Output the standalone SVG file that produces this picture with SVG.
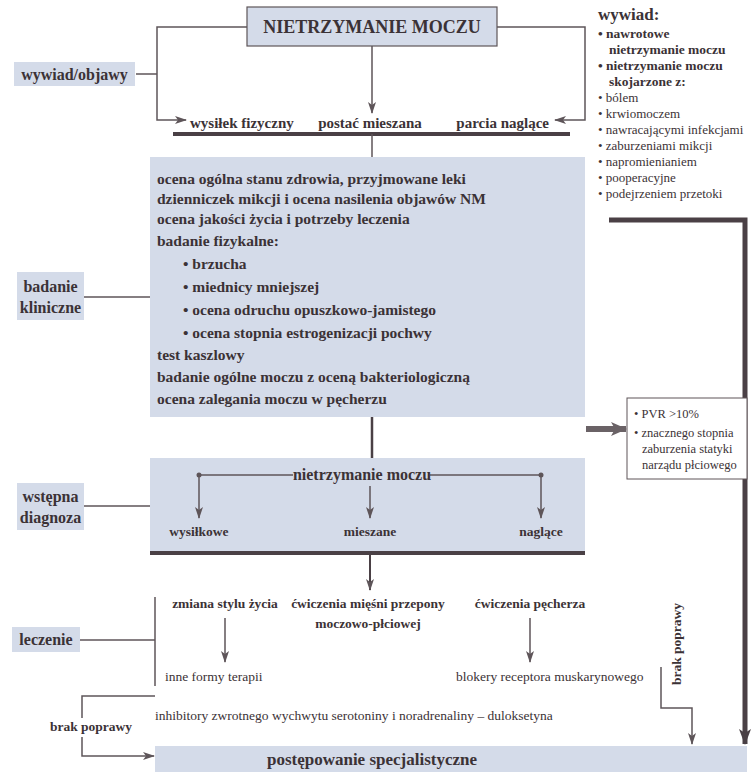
<svg xmlns="http://www.w3.org/2000/svg" width="751" height="772" viewBox="0 0 751 772">
<style>
.t{font-family:"Liberation Serif","Times New Roman",serif;fill:#3b3236}
.b{font-weight:bold}
.box{fill:#d4dbe9}
.ln{stroke:#5e5559;stroke-width:1.5;fill:none}
.thick{stroke:#4a4045;stroke-width:4;fill:none}
</style>
<defs>
<marker id="ar" markerWidth="12" markerHeight="8" refX="11" refY="4" orient="auto" markerUnits="userSpaceOnUse"><path d="M0,0 L12,4 L0,8 L3,4 z" fill="#5e5559"/></marker>
<marker id="arB" markerWidth="16" markerHeight="12" refX="15" refY="6" orient="auto" markerUnits="userSpaceOnUse"><path d="M0,0 L16,6 L0,12 L4,6 z" fill="#4a4045"/></marker>
<marker id="arG" markerWidth="16" markerHeight="14" refX="15" refY="7" orient="auto" markerUnits="userSpaceOnUse"><path d="M0,0 L16,7 L0,14 L4,7 z" fill="#6a6266"/></marker>
</defs>
<rect width="751" height="772" fill="#ffffff"/>

<g id="connectors">
<path class="ln" d="M247,27 H157 V120 H186" marker-end="url(#ar)"/>
<path class="ln" d="M136,74 H157"/>
<path class="ln" d="M497,27 H585 V120 H555" marker-end="url(#ar)"/>
<path class="ln" d="M372,46 V113" marker-end="url(#ar)"/>
<path class="thick" d="M173,134 H570"/>
<path class="ln" d="M372,134 V157"/>
<path class="ln" d="M84,297 H150"/>
<path d="M586,429 H626" stroke="#6a6266" stroke-width="6" fill="none" marker-end="url(#arG)"/>
<path d="M609,220 H745 V744" stroke="#4a4045" stroke-width="5" fill="none" marker-end="url(#arB)"/>
<path class="thick" d="M372,417 V458" style="stroke-width:2.5"/>
<path class="ln" d="M84,506 H150"/>
<path class="thick" d="M370,553 V590" style="stroke-width:2" marker-end="url(#ar)"/>
<path class="ln" d="M155,597 V686"/>
<path class="ln" d="M80,640 H155"/>
<path class="ln" d="M225,618 V662" marker-end="url(#ar)"/>
<path class="ln" d="M530,618 V662" marker-end="url(#ar)"/>
<path class="ln" d="M661,667 V708 H692 V744" marker-end="url(#ar)"/>
<path class="ln" d="M155,696 H82 V718"/>
<path class="ln" d="M82,737 V756 H154" marker-end="url(#ar)"/>
</g>

<g id="n-main">
<rect x="247" y="7" width="250" height="39" class="box" stroke="#5e5559" stroke-width="1.2"/>
<text class="t b" x="372" y="33" font-size="18" text-anchor="middle">NIETRZYMANIE MOCZU</text>
</g>

<g id="l-wywiad">
<rect x="14" y="62" width="121" height="24" class="box"/>
<text class="t b" x="74.5" y="80" font-size="16" text-anchor="middle">wywiad/objawy</text>
</g>

<g id="n-types">
<text class="t b" x="190" y="128" font-size="15">wysiłek fizyczny</text>
<text class="t b" x="370" y="128" font-size="15" text-anchor="middle">postać mieszana</text>
<text class="t b" x="549" y="128" font-size="15" text-anchor="end">parcia naglące</text>
</g>

<g id="n-wywiad-list" class="t">
<text class="b" x="598" y="20" font-size="17">wywiad:</text>
<text class="b" x="598" y="38" font-size="13.5">• nawrotowe</text>
<text class="b" x="609" y="54" font-size="13.5">nietrzymanie moczu</text>
<text class="b" x="598" y="70" font-size="13.5">• nietrzymanie moczu</text>
<text class="b" x="609" y="86" font-size="13.5">skojarzone z:</text>
<text x="598" y="102" font-size="13">• bólem</text>
<text x="598" y="118" font-size="13">• krwiomoczem</text>
<text x="598" y="134" font-size="13">• nawracającymi infekcjami</text>
<text x="598" y="150" font-size="13">• zaburzeniami mikcji</text>
<text x="598" y="166" font-size="13">• napromienianiem</text>
<text x="598" y="182" font-size="13">• pooperacyjne</text>
<text x="598" y="198" font-size="13">• podejrzeniem przetoki</text>
</g>

<g id="n-clinical" class="t b" font-size="15.5">
<rect x="150" y="157" width="435" height="260" class="box"/>
<text x="157" y="184">ocena ogólna stanu zdrowia, przyjmowane leki</text>
<text x="157" y="204">dzienniczek mikcji i ocena nasilenia objawów NM</text>
<text x="157" y="224">ocena jakości życia i potrzeby leczenia</text>
<text x="157" y="246">badanie fizykalne:</text>
<text x="183" y="269">• brzucha</text>
<text x="183" y="292">• miednicy mniejszej</text>
<text x="183" y="315">• ocena odruchu opuszkowo-jamistego</text>
<text x="183" y="338">• ocena stopnia estrogenizacji pochwy</text>
<text x="157" y="360">test kaszlowy</text>
<text x="157" y="382">badanie ogólne moczu z oceną bakteriologiczną</text>
<text x="157" y="404">ocena zalegania moczu w pęcherzu</text>
</g>

<g id="l-badanie">
<rect x="17" y="272" width="67" height="48" class="box"/>
<text class="t b" x="50.5" y="292" font-size="16" text-anchor="middle">badanie</text>
<text class="t b" x="50.5" y="313" font-size="16" text-anchor="middle">kliniczne</text>
</g>

<g id="n-pvr">
<rect x="627" y="398" width="120" height="81" fill="#ffffff" stroke="#5e5559" stroke-width="1"/>
<text class="t" x="634" y="418" font-size="12.5">• PVR &gt;10%</text>
<text class="t" x="634" y="437" font-size="12.5">• znacznego stopnia</text>
<text class="t" x="642" y="453" font-size="12.5">zaburzenia statyki</text>
<text class="t" x="642" y="469" font-size="12.5">narządu płciowego</text>
</g>

<g id="n-diagnosis">
<rect x="150" y="458" width="435" height="95" class="box"/>
<path class="ln" d="M199,475 H293 M430,475 H541"/>
<circle cx="199" cy="475" r="2.5" fill="#5e5559"/>
<circle cx="541" cy="475" r="2.5" fill="#5e5559"/>
<path class="ln" d="M199,475 V518" marker-end="url(#ar)"/>
<path class="ln" d="M541,475 V518" marker-end="url(#ar)"/>
<path class="ln" d="M370,486 V518" marker-end="url(#ar)"/>
<text class="t b" x="362" y="480" font-size="16" text-anchor="middle">nietrzymanie moczu</text>
<text class="t b" x="199" y="536" font-size="13.5" text-anchor="middle">wysiłkowe</text>
<text class="t b" x="370" y="536" font-size="13.5" text-anchor="middle">mieszane</text>
<text class="t b" x="541" y="536" font-size="13.5" text-anchor="middle">naglące</text>
<path class="thick" d="M150,553 H585"/>
</g>

<g id="l-diagnoza">
<rect x="17" y="483" width="67" height="47" class="box"/>
<text class="t b" x="50.5" y="502" font-size="16" text-anchor="middle">wstępna</text>
<text class="t b" x="50.5" y="523" font-size="16" text-anchor="middle">diagnoza</text>
</g>

<g id="l-leczenie">
<rect x="12" y="627" width="68" height="25" class="box"/>
<text class="t b" x="46" y="645" font-size="16" text-anchor="middle">leczenie</text>
</g>

<g id="n-treatment" class="t">
<text class="b" x="225" y="608" font-size="13.5" text-anchor="middle">zmiana stylu życia</text>
<text class="b" x="368" y="608" font-size="13.5" text-anchor="middle">ćwiczenia mięśni przepony</text>
<text class="b" x="368" y="628" font-size="13.5" text-anchor="middle">moczowo-płciowej</text>
<text class="b" x="530" y="608" font-size="13.5" text-anchor="middle">ćwiczenia pęcherza</text>
<text x="165" y="681" font-size="13.5">inne formy terapii</text>
<text x="456" y="681" font-size="13.5">blokery receptora muskarynowego</text>
<text x="155" y="720" font-size="13.5">inhibitory zwrotnego wychwytu serotoniny i noradrenaliny – duloksetyna</text>
</g>

<g id="l-brak1">
<text class="t b" x="91" y="731" font-size="13.5" text-anchor="middle">brak poprawy</text>
</g>
<g id="l-brak2">
<text class="t b" transform="translate(681,644) rotate(-90)" font-size="13.5" text-anchor="middle">brak poprawy</text>
</g>

<g id="n-special">
<rect x="155" y="746" width="592" height="26" class="box"/>
<text class="t b" x="372" y="765" font-size="17" text-anchor="middle">postępowanie specjalistyczne</text>
</g>
</svg>
